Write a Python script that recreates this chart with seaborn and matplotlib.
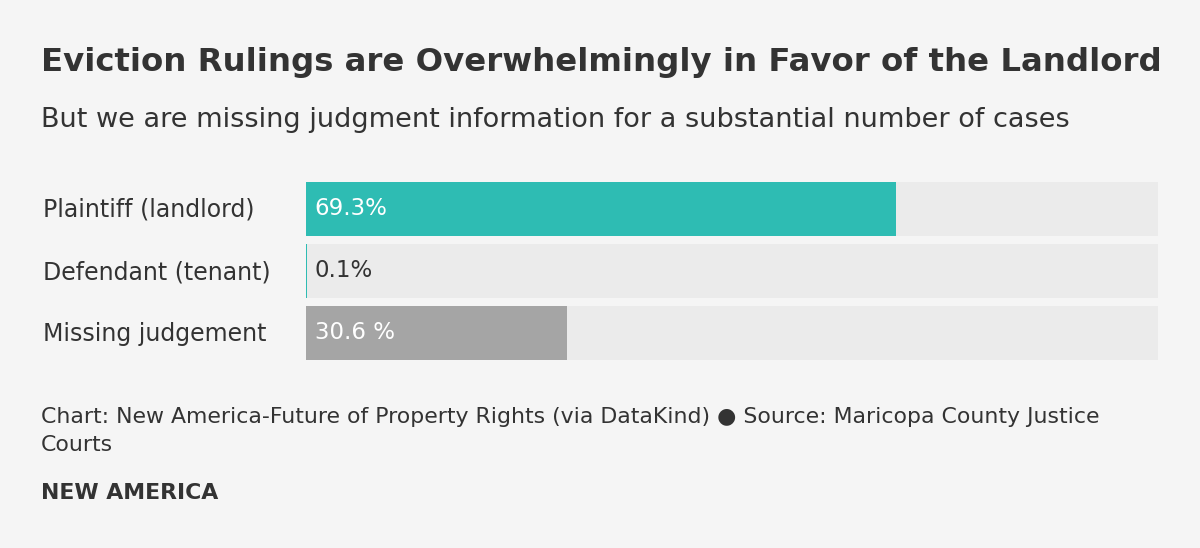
import matplotlib
matplotlib.use("Agg")
import matplotlib.pyplot as plt
import seaborn as sns
import pandas as pd

# --- dados ---
categorias = ["Plaintiff (landlord)", "Defendant (tenant)", "Missing judgement"]
valores = [69.3, 0.1, 30.6]
rotulos = ["69.3%", "0.1%", "30.6 %"]
cores = ["#2EBCB3", "#2EBCB3", "#A5A5A5"]
cor_texto = ["white", "#333333", "white"]
total = [100, 100, 100]

FUNDO = "#F5F5F5"
ESCURO = "#333333"

sns.set_style("white")
plt.rcParams["font.family"] = ["DejaVu Sans"]

df = pd.DataFrame({"cat": categorias, "val": valores, "total": total})

fig = plt.figure(figsize=(12, 5.48), dpi=100, facecolor=FUNDO)
ax = fig.add_axes([0.255, 0.3431, 0.71, 0.3248])
ax.set_facecolor(FUNDO)

# barras de fundo (100%) + barras de valor
alt = 54 / 62
sns.barplot(data=df, y="cat", x="total", color="#EBEBEB", width=alt,
            orient="h", ax=ax, saturation=1, linewidth=0)
sns.barplot(data=df, y="cat", x="val", hue="cat", palette=cores, width=alt,
            orient="h", ax=ax, saturation=1, legend=False, dodge=False, linewidth=0)

ax.set_xlim(0, 100)
ax.set_ylim(2 + alt / 2, -alt / 2)
ax.set_xlabel("")
ax.set_ylabel("")
ax.set_xticks([])
ax.set_yticks([])
for s in ax.spines.values():
    s.set_visible(False)

for i, (cat, rot, ct) in enumerate(zip(categorias, rotulos, cor_texto)):
    ax.text(1.0, i, rot, color=ct, fontsize=16.5, va="center", ha="left")
    fig.text(43 / 1200, 1 - (210 + 62 * i) / 548, cat, color=ESCURO,
             fontsize=17, va="center", ha="left")

fig.text(41 / 1200, 1 - 62 / 548, "Eviction Rulings are Overwhelmingly in Favor of the Landlord",
         fontsize=23.3, fontweight="bold", color=ESCURO, va="center", ha="left")
fig.text(41 / 1200, 1 - 120 / 548, "But we are missing judgment information for a substantial number of cases",
         fontsize=19.5, color=ESCURO, va="center", ha="left")
fig.text(41 / 1200, 1 - 417 / 548,
         "Chart: New America-Future of Property Rights (via DataKind) \u25cf Source: Maricopa County Justice",
         fontsize=15.8, color=ESCURO, va="center", ha="left")
fig.text(41 / 1200, 1 - 445 / 548, "Courts", fontsize=15.8, color=ESCURO, va="center", ha="left")
fig.text(41 / 1200, 1 - 493 / 548, "NEW AMERICA", fontsize=15.8, fontweight="bold",
         color=ESCURO, va="center", ha="left")

plt.savefig("out.png", dpi=100, facecolor=fig.get_facecolor())
